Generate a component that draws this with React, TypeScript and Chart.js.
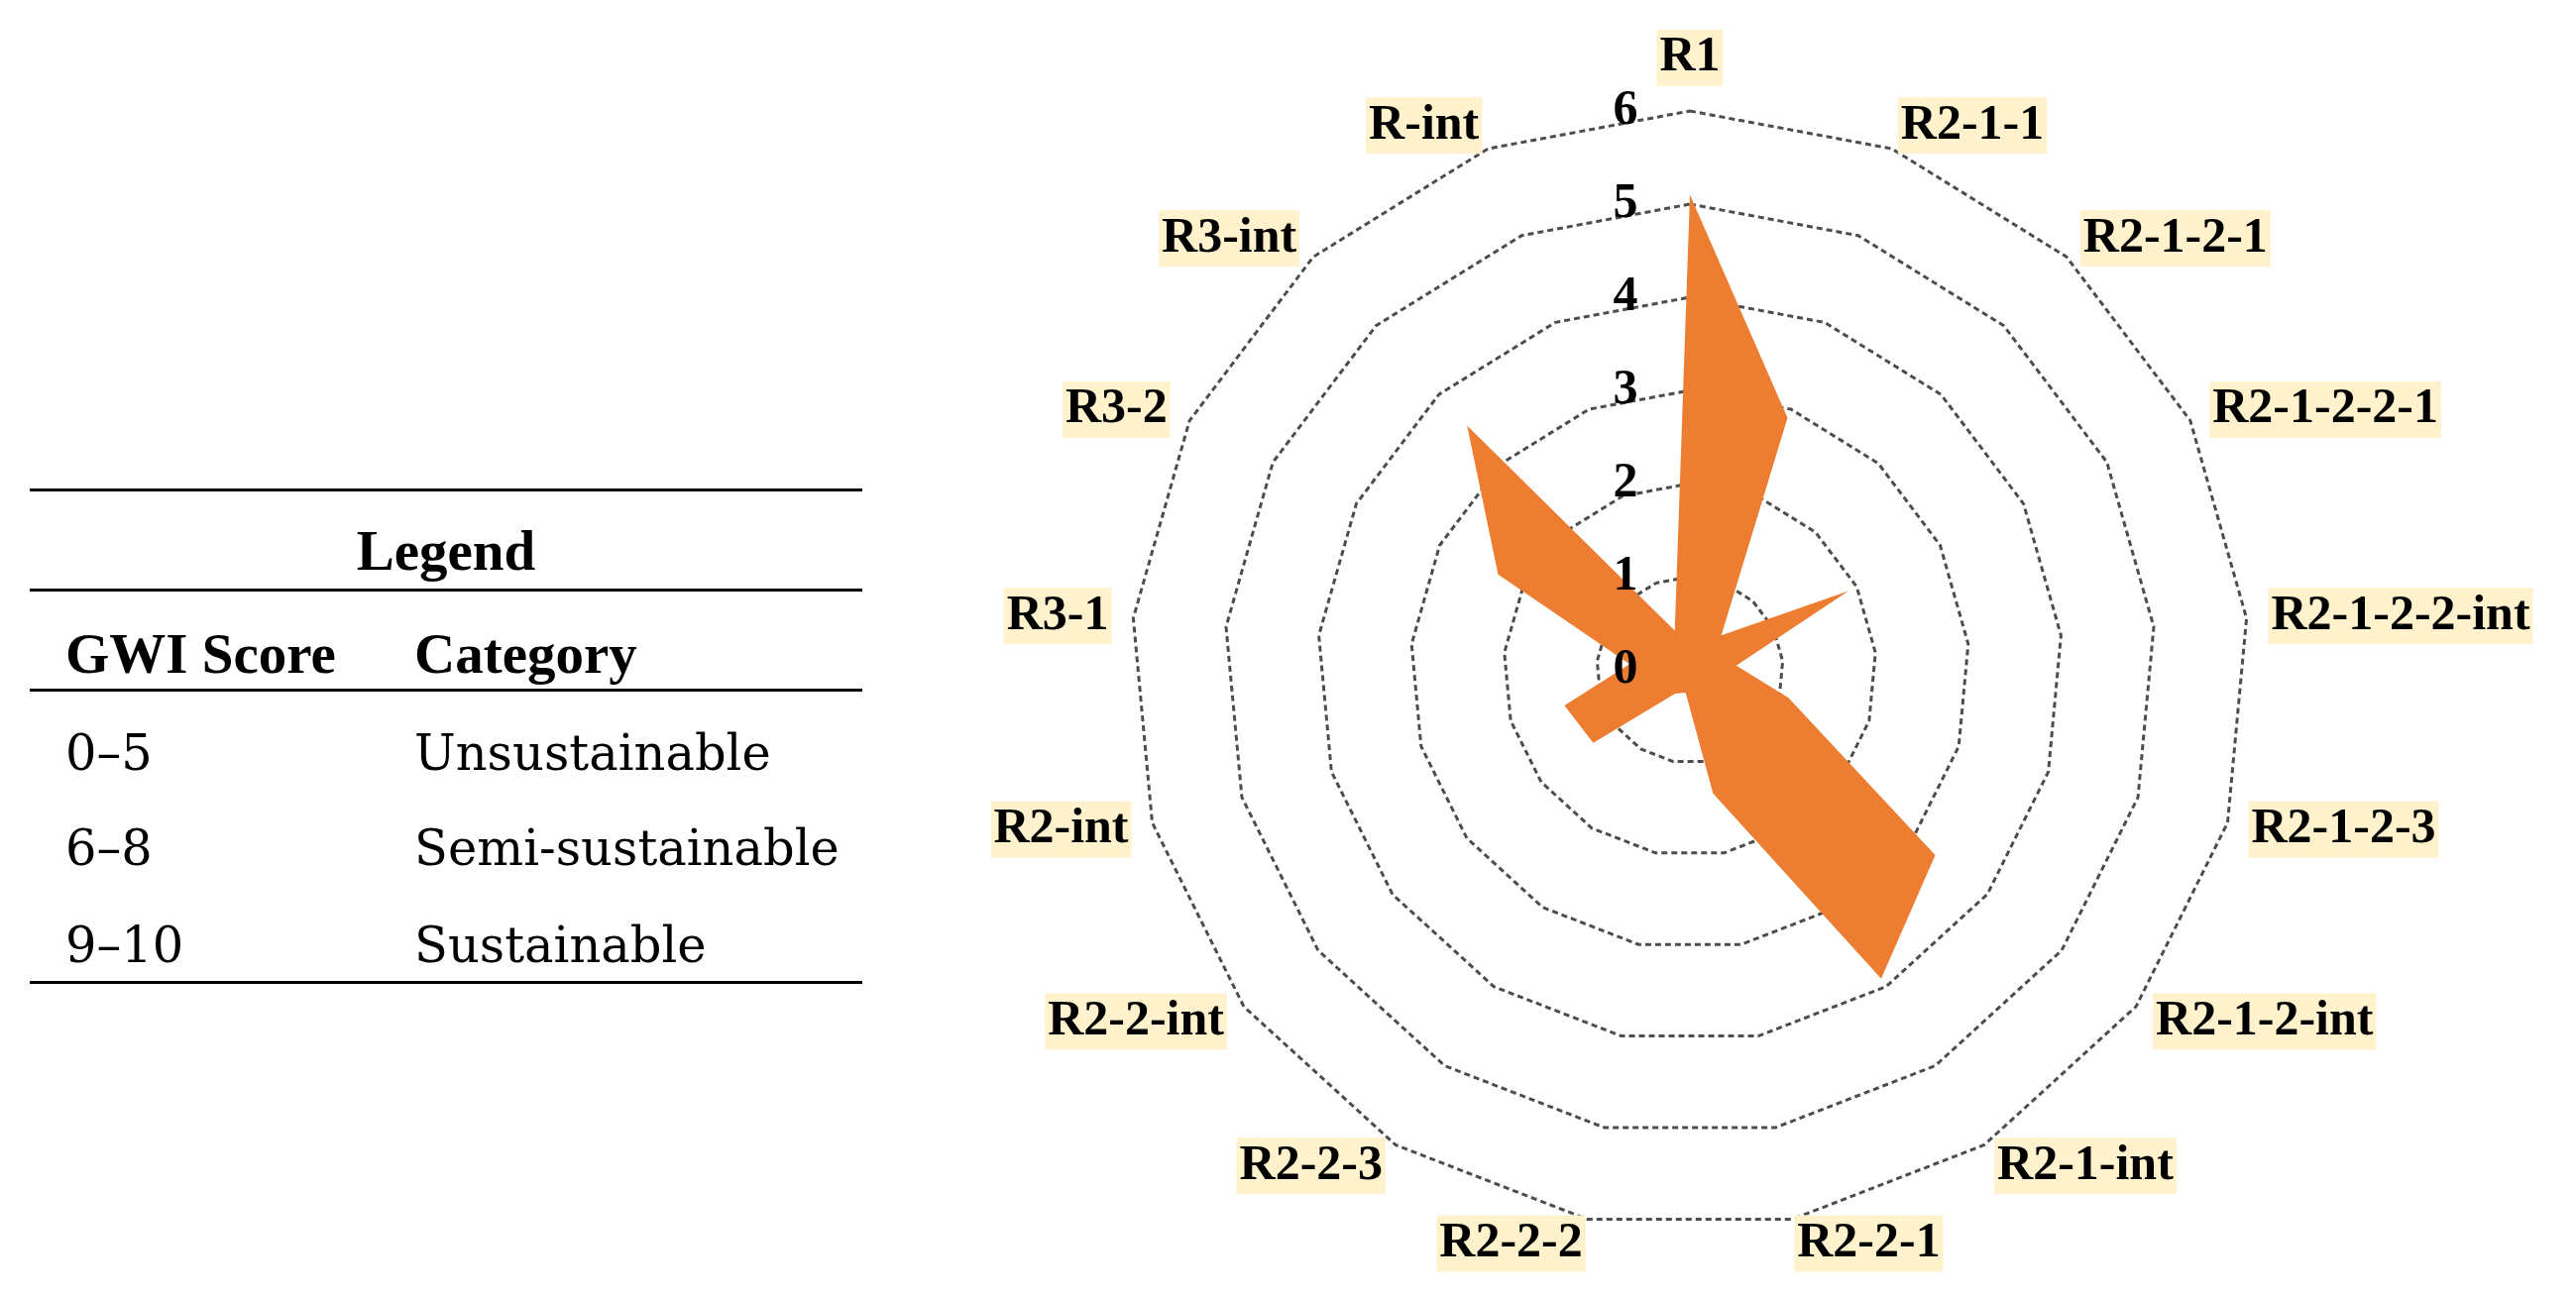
import React, { useEffect, useRef } from 'react';
import { Chart, registerables } from 'chart.js';

Chart.register(...registerables);

// ---- data ----
const categories = [
  'R1', 'R2-1-1', 'R2-1-2-1', 'R2-1-2-2-1', 'R2-1-2-2-int', 'R2-1-2-3',
  'R2-1-2-int', 'R2-1-int', 'R2-2-1', 'R2-2-2', 'R2-2-3', 'R2-2-int',
  'R2-int', 'R3-1', 'R3-2', 'R3-int', 'R-int',
];
const gwiScores = [5.1, 2.9, 0.5, 1.9, 0.5, 1.1, 3.3, 3.9, 1.35, 0.25, 0.3, 1.3, 1.4, 0.65, 2.3, 3.55, 0.45];
const scaleMin = 0;
const scaleMax = 6;
const scaleStep = 1;

const legendTitle = 'Legend';
const legendHeaders = ['GWI Score', 'Category'];
const legendRanges = ['0–5', '6–8', '9–10'];
const legendCategories = ['Unsustainable', 'Semi-sustainable', 'Sustainable'];

// ---- styles ----
const FILL = '#ED7D31';
const LABEL_BG = '#FFF2CC';
const LABEL_FONT = 'bold 50px "Liberation Serif", "Times New Roman", serif';

const labelPlugin = {
  id: 'excelLabels',
  afterDraw(chart: any) {
    const scale = chart.scales.r;
    const ctx = chart.ctx as CanvasRenderingContext2D;
    ctx.save();
    ctx.font = LABEL_FONT;
    ctx.textBaseline = 'middle';

    // tick labels, left of the vertical axis
    ctx.fillStyle = '#000';
    ctx.textAlign = 'center';
    scale.ticks.forEach((t: any) => {
      const d = scale.getDistanceFromCenterForValue(t.value);
      ctx.fillText(String(t.value), scale.xCenter - 65, scale.yCenter - d);
    });

    // point labels with highlighted background
    const labels: string[] = chart.data.labels;
    const n = labels.length;
    const h = 57;
    labels.forEach((lab, i) => {
      const p = scale.getPointPosition(i, scale.drawingArea + 25);
      const deg = (i * 360) / n;
      const w = ctx.measureText(lab).width;
      let left: number;
      let cy: number;
      if (deg === 0) {
        left = p.x - w / 2;
        cy = p.y - h / 2;
      } else if (deg === 180) {
        left = p.x - w / 2;
        cy = p.y + h / 2;
      } else if (deg < 180) {
        left = p.x;
        cy = p.y;
      } else {
        left = p.x - w;
        cy = p.y;
      }
      ctx.fillStyle = LABEL_BG;
      ctx.fillRect(left - 3, cy - h / 2, w + 6, h);
      ctx.fillStyle = '#000';
      ctx.textAlign = 'left';
      ctx.fillText(lab, left, cy);
    });
    ctx.restore();
  },
};

function RadarChart() {
  const ref = useRef<HTMLCanvasElement | null>(null);
  useEffect(() => {
    if (!ref.current) return;
    const chart = new Chart(ref.current, {
      type: 'radar',
      data: {
        labels: categories,
        datasets: [
          {
            label: 'GWI',
            data: gwiScores,
            backgroundColor: FILL,
            borderWidth: 0,
            borderColor: FILL,
            pointRadius: 0,
            pointHoverRadius: 0,
            fill: true,
          },
        ],
      },
      options: {
        animation: false,
        responsive: false,
        maintainAspectRatio: false,
        layout: { padding: { left: 141, right: 330, top: 112, bottom: 71 } },
        plugins: { legend: { display: false }, tooltip: { enabled: false } },
        scales: {
          r: {
            min: scaleMin,
            max: scaleMax,
            ticks: { display: false, stepSize: scaleStep },
            pointLabels: { display: false },
            angleLines: { display: false },
            grid: { color: '#4d4d4d', lineWidth: 3 },
            border: { dash: [6, 4] },
          },
        },
      } as any,
      plugins: [labelPlugin as any],
    });
    return () => chart.destroy();
  }, []);
  return (
    <canvas
      ref={ref}
      width={1599}
      height={1311}
      style={{ position: 'absolute', left: 1000, top: 0, width: 1599, height: 1311 }}
    />
  );
}

const headFont: React.CSSProperties = {
  position: 'absolute',
  fontFamily: '"Liberation Serif", "Times New Roman", serif',
  fontWeight: 'bold',
  fontSize: 57,
  lineHeight: '57px',
  whiteSpace: 'nowrap',
  color: '#000',
};
const bodyFont: React.CSSProperties = {
  position: 'absolute',
  fontFamily: '"DejaVu Serif", serif',
  fontSize: 49.5,
  lineHeight: '50px',
  whiteSpace: 'nowrap',
  color: '#000',
};

function rule(y: number) {
  return (
    <div
      key={'rule' + y}
      style={{ position: 'absolute', left: 30, top: y - 1.5, width: 840, height: 3, background: '#000' }}
    />
  );
}

export default function App() {
  const rowTops = [735, 831, 929];
  return (
    <div
      style={{
        position: 'absolute',
        left: 0,
        top: 0,
        width: 2599,
        height: 1311,
        background: '#fff',
        overflow: 'hidden',
      }}
    >
      {rule(494)}
      {rule(595)}
      {rule(696)}
      {rule(991)}
      <div style={{ ...headFont, left: 30, width: 840, top: 527, textAlign: 'center' }}>{legendTitle}</div>
      <div style={{ ...headFont, left: 66, top: 631 }}>{legendHeaders[0]}</div>
      <div style={{ ...headFont, left: 418, top: 631 }}>{legendHeaders[1]}</div>
      {legendRanges.map((r, i) => (
        <div key={'r' + i} style={{ ...bodyFont, left: 66, top: rowTops[i] }}>{r}</div>
      ))}
      {legendCategories.map((c, i) => (
        <div key={'c' + i} style={{ ...bodyFont, left: 418, top: rowTops[i] }}>{c}</div>
      ))}
      <RadarChart />
    </div>
  );
}
